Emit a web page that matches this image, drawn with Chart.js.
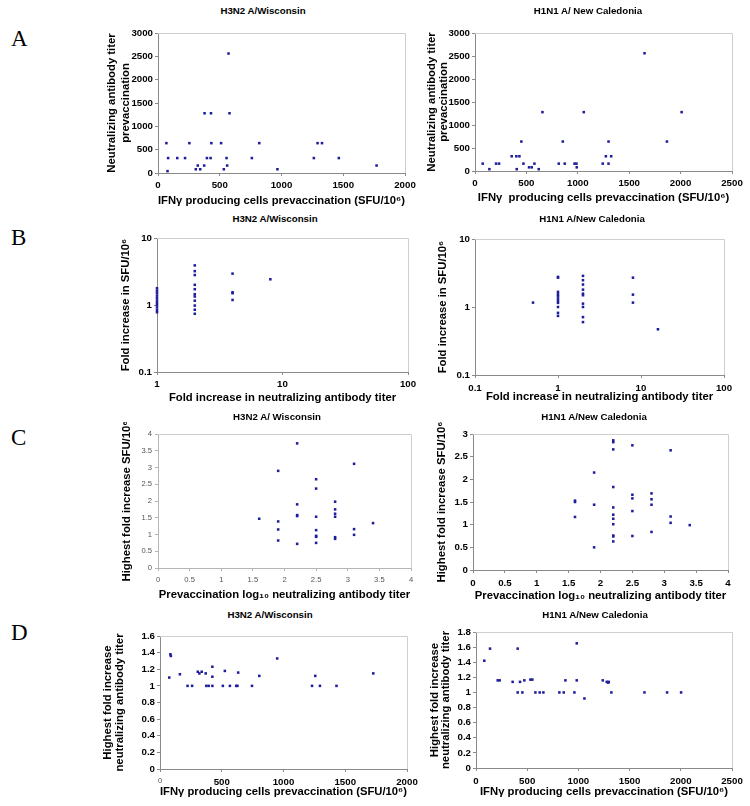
<!DOCTYPE html>
<html><head><meta charset="utf-8">
<script src="https://cdn.jsdelivr.net/npm/chart.js@4"></script>
<style>
body{margin:0;width:750px;height:806px;background:#fff;position:relative;overflow:hidden;font-family:"Liberation Sans",Arial,sans-serif}
.lbl{position:absolute;font-family:"Liberation Serif","Times New Roman",serif;font-size:23px;line-height:23px;color:#000}
.ttl{position:absolute;font-weight:bold;font-size:9.7px;line-height:12px;transform:translate(-50%,-50%);white-space:nowrap;color:#000}
.box{position:absolute}
</style></head><body>
<script>
// ---------- text ----------
const panelLetters = ["A", "B", "C", "D"];
const titleH3N2 = "H3N2 A/Wisconsin";
const titleH3N2b = "H3N2 A/ Wisconsin";
const titleH1N1a = "H1N1 A/ New Caledonia";
const titleH1N1 = "H1N1 A/New Caledonia";
const xTitleIFN = "IFN\u03b3 producing cells prevaccination (SFU/10\u2076)";
const xTitleIFN2 = "IFN\u03b3  producing cells prevaccination (SFU/10\u2076)";
const yTitleA = ["Neutralizing antibody titer", "prevaccination"];
const xTitleB = "Fold increase in neutralizing antibody titer";
const yTitleB = "Fold increase in SFU/10\u2076";
const xTitleC = "Prevaccination log\u2081\u2080 neutralizing antibody titer";
const yTitleC = "Highest fold increase SFU/10\u2076";
const yTitleD = ["Highest fold increase", "neutralizing antibody titer"];

// ---------- tick labels ----------
const ticksIFN2000 = [0, 500, 1000, 1500, 2000];
const ticksIFN2500 = [0, 500, 1000, 1500, 2000, 2500];
const ticksTiter = [0, 500, 1000, 1500, 2000, 2500, 3000];
const ticksFoldLogY = [0.1, 1, 10];
const ticksFoldLogX_H3N2 = [1, 10, 100];
const ticksFoldLogX_H1N1 = [0.1, 1, 10, 100];
const ticksLogTiter = [0, 0.5, 1, 1.5, 2, 2.5, 3, 3.5, 4];
const ticksC_H3N2_y = [0, 0.5, 1, 1.5, 2, 2.5, 3, 3.5, 4];
const ticksC_H1N1_y = [0, 0.5, 1, 1.5, 2, 2.5, 3];
const ticksD_H3N2_y = [0, 0.2, 0.4, 0.6, 0.8, 1, 1.2, 1.4, 1.6];
const ticksD_H1N1_y = [0, 0.2, 0.4, 0.6, 0.8, 1, 1.2, 1.4, 1.6, 1.8];

// ---------- data ----------
// A: IFNγ SFU/10^6 prevaccination vs neutralizing titer prevaccination
const A_H3N2_ifn = [68, 82, 77, 156, 219, 254, 306, 322, 342, 377, 374, 396, 429, 432, 426, 511, 533, 571, 579, 555, 560, 820, 760, 967, 1262, 1292, 1328, 1464, 1770];
const A_H3N2_titer = [640, 320, 40, 320, 320, 640, 80, 160, 80, 1280, 160, 320, 1280, 640, 320, 640, 80, 2560, 1280, 320, 160, 640, 320, 80, 320, 640, 640, 320, 160];
const A_H1N1_ifn = [75, 140, 205, 234, 357, 406, 402, 432, 451, 471, 526, 552, 578, 620, 656, 815, 854, 873, 968, 987, 990, 1058, 1243, 1273, 1299, 1299, 1325, 1649, 1867, 2010];
const A_H1N1_titer = [160, 40, 160, 160, 320, 40, 320, 320, 640, 160, 80, 80, 160, 40, 1280, 160, 640, 160, 160, 160, 80, 1280, 160, 320, 640, 160, 320, 2560, 640, 1280];

// B: fold increase in neutralizing titer vs fold increase in SFU
const B_H3N2_foldTiter = [1,1,1,1,1,1,1,1,1,1,1, 2,2,2,2,2,2,2,2,2,2,2, 4,4,4,4, 8];
const B_H3N2_foldSFU = [1.78,1.64,1.51,1.38,1.26,1.16,1.07,1.0,0.92,0.84,0.78, 3.9,3.2,2.8,2.0,1.72,1.45,1.34,1.16,0.98,0.85,0.74, 2.94,1.55,1.5,1.19, 2.42];
const B_H1N1_foldTiter = [0.5, 1,1,1,1,1,1,1,1,1,1,1, 2,2,2,2,2,2,2,2,2,2, 8,8,8, 16];
const B_H1N1_foldSFU = [1.16, 2.77,2.7,1.67,1.54,1.44,1.33,1.23,1.15,1.0,0.82,0.74, 2.87,2.48,2.14,1.8,1.57,1.49,1.12,1.0,0.71,0.6, 2.7,1.52,1.16, 0.47];

// C: prevaccination log10 titer vs highest fold increase SFU
const C_H3N2_logTiter = [1.6, 1.9,1.9,1.9,1.9, 2.2,2.2,2.2,2.2,2.2, 2.5,2.5,2.5,2.5,2.5,2.5,2.5, 2.8,2.8,2.8,2.8,2.8,2.8, 3.1,3.1,3.1, 3.4];
const C_H3N2_foldSFU = [1.47, 2.9,1.39,1.15,0.82, 3.72,1.9,1.58,1.55,0.72, 2.65,2.37,1.53,1.13,0.96,0.93,0.75, 1.98,1.75,1.62,1.53,0.92,0.87, 3.11,1.16,0.99, 1.34];
const C_H1N1_logTiter = [1.6,1.6,1.6, 1.9,1.9,1.9, 2.2,2.2,2.2,2.2,2.2,2.2,2.2,2.2,2.2,2.2,2.2, 2.5,2.5,2.5,2.5,2.5, 2.8,2.8,2.8,2.8, 3.1,3.1,3.1, 3.4];
const C_H1N1_foldSFU = [1.53,1.5,1.17, 2.15,1.44,0.5, 2.86,2.82,2.66,1.83,1.38,1.22,1.13,1.01,0.76,0.74,0.63, 2.75,1.66,1.58,1.3,0.75, 1.69,1.56,1.44,0.84, 2.64,1.18,1.04, 0.99];

// D: IFNγ SFU/10^6 prevaccination vs highest fold increase neutralizing titer
const D_H3N2_ifn = [75, 84, 88, 161, 223, 260, 306, 319, 338, 370, 375, 394, 424, 424, 424, 509, 525, 566, 617, 627, 633, 745, 804, 949, 1231, 1257, 1295, 1429, 1727];
const D_H3N2_fold = [1.1, 1.38, 1.36, 1.14, 1.0, 1.0, 1.17, 1.15, 1.17, 1.15, 1.0, 1.0, 1.0, 1.23, 1.11, 1.0, 1.18, 1.0, 1.0, 1.0, 1.16, 1.0, 1.12, 1.33, 1.0, 1.12, 1.0, 1.0, 1.15];
const D_H1N1_ifn = [81, 137, 212, 231, 358, 407, 407, 430, 453, 472, 531, 550, 580, 622, 658, 814, 857, 873, 961, 984, 984, 1059, 1238, 1277, 1290, 1296, 1322, 1645, 1866, 2003];
const D_H1N1_fold = [1.42, 1.58, 1.16, 1.16, 1.14, 1.58, 1.0, 1.14, 1.0, 1.16, 1.17, 1.17, 1.0, 1.0, 1.0, 1.0, 1.0, 1.16, 1.0, 1.65, 1.16, 0.92, 1.16, 1.14, 1.13, 1.14, 1.0, 1.0, 1.0, 1.0];

// ---------- rendering ----------
const FAMILY = '"Liberation Sans", Arial, Helvetica, sans-serif';
Chart.defaults.font.family = FAMILY;
const BLUE = '#1e1e9c';
const AXIS = '#8a8a8a';
const FRAME = '#cfcfcf';

function pts(xs, ys) { return xs.map((x, i) => ({ x: x, y: ys[i] })); }
function fmt(v) { return String(Math.round(v * 1000) / 1000); }

function addText(cls, txt, x, y) {
  const d = document.createElement('div');
  d.className = cls; d.textContent = txt;
  d.style.left = x + 'px'; d.style.top = y + 'px';
  document.body.appendChild(d);
}

const framePlugin = {
  id: 'frame',
  afterDraw(c) {
    const a = c.chartArea, x = c.ctx;
    x.save(); x.strokeStyle = FRAME; x.lineWidth = 1;
    x.beginPath();
    x.moveTo(Math.round(a.left), Math.round(a.top) + 0.5);
    x.lineTo(Math.round(a.right) + 0.5, Math.round(a.top) + 0.5);
    x.lineTo(Math.round(a.right) + 0.5, Math.round(a.bottom));
    x.stroke(); x.restore();
  }
};

function makePanel(p) {
  const [cl, ct, cr, cb] = p.canvas;
  const [L, T, R, B] = p.area;
  const W = cr - cl, H = cb - ct;
  const div = document.createElement('div'); div.className = 'box';
  div.style.left = cl + 'px'; div.style.top = ct + 'px';
  div.style.width = W + 'px'; div.style.height = H + 'px';
  const cv = document.createElement('canvas');
  cv.width = W; cv.height = H; cv.style.width = W + 'px'; cv.style.height = H + 'px';
  div.appendChild(cv); document.body.appendChild(div);

  const light = !!p.lightTicks;
  const tSize = light ? 7.6 : 9.7;
  const boldTick = { size: tSize, weight: 'bold', family: FAMILY, lineHeight: 1.2 };
  const lightTick = { size: 7.6, weight: 'normal', family: FAMILY, lineHeight: 1.2 };
  const axisCol = light ? '#b5b5b5' : AXIS;
  const tickCol = light ? '#555' : '#000';
  const titleSize = 11.3;
  const xlh = titleSize * 1.2;
  const ylh = titleSize * (p.yLine || 1.2);
  const xTickPad = p.xTickY - B - 3 - tSize * 1.2 / 2;

  function tickFont(firstLight) {
    if (light) return lightTick;
    if (firstLight) return (ctx) => ctx.index === 0 ? lightTick : boldTick;
    return boldTick;
  }
  function tickColor(firstLight) {
    if (firstLight) return (ctx) => ctx.index === 0 ? '#555' : tickCol;
    return tickCol;
  }

  const xAxis = {
    type: p.xType || 'linear', position: 'bottom',
    min: p.xTicks[0], max: p.xTicks[p.xTicks.length - 1],
    afterBuildTicks: s => { s.ticks = p.xTicks.map(v => ({ value: v })); },
    ticks: { autoSkip: false, maxRotation: 0, minRotation: 0, padding: xTickPad,
             font: tickFont(p.xFirstLight), color: tickColor(p.xFirstLight), callback: v => fmt(v) },
    grid: { display: true, drawOnChartArea: false, drawTicks: true, tickLength: 3, color: axisCol },
    border: { display: true, color: axisCol, width: 1 },
    title: { display: true, text: p.xTitle, color: '#000',
             font: { size: titleSize, weight: 'bold', family: FAMILY, lineHeight: 1.2 },
             padding: { top: 0, bottom: cb - p.xTitleY - xlh / 2 } },
    afterFit: s => { s.height = cb - B; }
  };
  const yAxis = {
    type: p.yType || 'linear', position: 'left',
    min: p.yTicks[0], max: p.yTicks[p.yTicks.length - 1],
    afterBuildTicks: s => { s.ticks = p.yTicks.map(v => ({ value: v })); },
    ticks: { autoSkip: false, padding: p.yTickPad || 2, font: tickFont(false), color: tickCol, callback: v => fmt(v) },
    grid: { display: true, drawOnChartArea: false, drawTicks: true, tickLength: 3, color: axisCol },
    border: { display: true, color: axisCol, width: 1 },
    title: { display: true, text: p.yTitle, color: '#000',
             font: { size: titleSize, weight: 'bold', family: FAMILY, lineHeight: p.yLine || 1.2 },
             padding: { top: p.yTitleX - cl - ylh / 2, bottom: 0 } },
    afterFit: s => { s.width = L - cl; }
  };

  new Chart(cv, {
    type: 'scatter',
    data: { datasets: [{ data: p.data, backgroundColor: BLUE, borderWidth: 0, clip: false,
                         pointStyle: 'rect', pointRadius: 1.8, pointHoverRadius: 1.8 }] },
    options: {
      responsive: false, maintainAspectRatio: false, animation: false, devicePixelRatio: 1,
      layout: { padding: { left: 0, top: T - ct, right: cr - R, bottom: 0 } },
      plugins: { legend: { display: false }, tooltip: { enabled: false }, title: { display: false } },
      scales: { x: xAxis, y: yAxis }
    },
    plugins: [framePlugin]
  });
  addText('ttl', p.title, p.titlePos[0], p.titlePos[1]);
}

// panel letters
addText('lbl', panelLetters[0], 11, 27);
addText('lbl', panelLetters[1], 11, 226);
addText('lbl', panelLetters[2], 11, 426);
addText('lbl', panelLetters[3], 11, 621);

makePanel({ title: titleH3N2, titlePos: [263, 11], canvas: [98, 18, 420, 210], area: [158, 33, 405, 173],
  xTicks: ticksIFN2000, yTicks: ticksTiter, xTickY: 185, xTitle: xTitleIFN, xTitleY: 201,
  yTitle: yTitleA, yTitleX: 112, yLine: 1.22, data: pts(A_H3N2_ifn, A_H3N2_titer) });
makePanel({ title: titleH1N1a, titlePos: [588, 11], canvas: [415, 18, 747, 208], area: [475, 33, 732, 171],
  xTicks: ticksIFN2500, yTicks: ticksTiter, xTickY: 183, xTitle: xTitleIFN2, xTitleY: 198,
  yTitle: yTitleA, yTitleX: 432, yLine: 1.06, data: pts(A_H1N1_ifn, A_H1N1_titer) });

makePanel({ title: titleH3N2, titlePos: [275, 219], canvas: [98, 225, 423, 406], area: [157, 238, 408, 372],
  xType: 'logarithmic', yType: 'logarithmic',
  xTicks: ticksFoldLogX_H3N2, yTicks: ticksFoldLogY, xTickY: 384, xTitle: xTitleB, xTitleY: 398,
  yTitle: yTitleB, yTitleX: 126, data: pts(B_H3N2_foldTiter, B_H3N2_foldSFU) });
makePanel({ title: titleH1N1, titlePos: [592, 219], canvas: [415, 226, 740, 404], area: [475, 239, 724, 375],
  xType: 'logarithmic', yType: 'logarithmic',
  xTicks: ticksFoldLogX_H1N1, yTicks: ticksFoldLogY, xTickY: 388, xTitle: xTitleB, xTitleY: 397,
  yTitle: yTitleB, yTitleX: 443, data: pts(B_H1N1_foldTiter, B_H1N1_foldSFU) });

makePanel({ title: titleH3N2b, titlePos: [277, 417], canvas: [98, 422, 424, 604], area: [158, 434, 411, 568],
  lightTicks: true, yTickPad: 3,
  xTicks: ticksLogTiter, yTicks: ticksC_H3N2_y, xTickY: 580, xTitle: xTitleC, xTitleY: 595,
  yTitle: yTitleC, yTitleX: 127, data: pts(C_H3N2_logTiter, C_H3N2_foldSFU) });
makePanel({ title: titleH1N1, titlePos: [594, 417], canvas: [415, 422, 742, 606], area: [473, 434, 728, 570],
  xTicks: ticksLogTiter, yTicks: ticksC_H1N1_y, xTickY: 583, xTitle: xTitleC, xTitleY: 596,
  yTitle: yTitleC, yTitleX: 442, data: pts(C_H1N1_logTiter, C_H1N1_foldSFU) });

makePanel({ title: titleH3N2, titlePos: [270, 615], canvas: [95, 624, 422, 804], area: [160, 636, 407, 769],
  xFirstLight: true,
  xTicks: ticksIFN2000, yTicks: ticksD_H3N2_y, xTickY: 782, xTitle: xTitleIFN, xTitleY: 792,
  yTitle: yTitleD, yTitleX: 108, yLine: 1.06, data: pts(D_H3N2_ifn, D_H3N2_fold) });
makePanel({ title: titleH1N1, titlePos: [595, 615], canvas: [412, 620, 747, 806], area: [476, 632, 732, 768],
  xTicks: ticksIFN2500, yTicks: ticksD_H1N1_y, xTickY: 781, xTitle: xTitleIFN, xTitleY: 792,
  yTitle: yTitleD, yTitleX: 435, yLine: 0.92, data: pts(D_H1N1_ifn, D_H1N1_fold) });
</script>
</body></html>
